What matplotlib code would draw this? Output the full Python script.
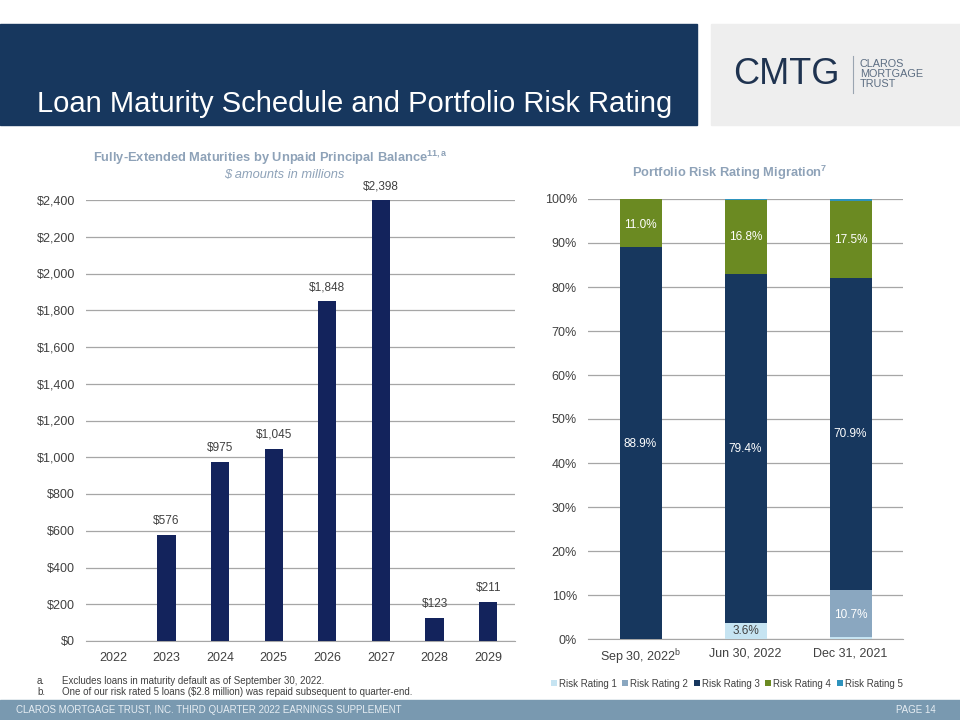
import matplotlib

matplotlib.use("Agg")

import matplotlib.pyplot as plt
import numpy as np
from matplotlib.patches import Rectangle

plt.rcParams["font.family"] = ["Liberation Sans", "DejaVu Sans"]
plt.rcParams["mathtext.fontset"] = "custom"
plt.rcParams["mathtext.rm"] = "Liberation Sans"
plt.rcParams["mathtext.bf"] = "Liberation Sans:bold"
plt.rcParams["mathtext.it"] = "Liberation Sans:italic"

# Left chart: maturities by year ($ millions)
years = ["2022", "2023", "2024", "2025", "2026", "2027", "2028", "2029"]
maturities = [0, 576, 975, 1045, 1848, 2398, 123, 211]
maturity_labels = ["", "$576", "$975", "$1,045", "$1,848", "$2,398", "$123", "$211"]

# Right chart: risk rating mix (%)
periods = ["Sep 30, 2022", "Jun 30, 2022", "Dec 31, 2021"]
rating_names = ["Risk Rating 1", "Risk Rating 2", "Risk Rating 3", "Risk Rating 4", "Risk Rating 5"]
rating_1 = [0.0, 3.6, 0.5]
rating_2 = [0.1, 0.0, 10.7]
rating_3 = [88.9, 79.4, 70.9]
rating_4 = [11.0, 16.8, 17.5]
rating_5 = [0.0, 0.2, 0.4]
shown_labels = [
    ["", "3.6%", ""],
    ["", "", "10.7%"],
    ["88.9%", "79.4%", "70.9%"],
    ["11.0%", "16.8%", "17.5%"],
    ["", "", ""],
]
# vertical position of the in-bar labels (in % units)
label_y = [
    [None, 1.8, None],
    [None, None, 5.5],
    [44.3, 43.2, 46.6],
    [94.1, 91.4, 90.7],
    [None, None, None],
]

NAVY = "#17375e"
BAR_NAVY = "#13235c"
rating_colors = ["#c6e4f2", "#8aa7c0", "#17375e", "#6b8a22", "#2e93bd"]
GRID = "#a6a6a6"
TEXT = "#404040"
SUBTITLE = "#8ea2b8"

W, H = 960, 720
fig = plt.figure(figsize=(W / 100, H / 100), dpi=100)


def fx(px):
    return px / W


def fy(py):
    return 1 - py / H


# header band, logo box and footer
fig.patches.append(Rectangle((0, fy(125)), fx(697), fy(24) - fy(125),
                             transform=fig.transFigure, color=NAVY, zorder=0))
fig.patches.append(Rectangle((fx(711), fy(125)), fx(249), fy(24) - fy(125),
                             transform=fig.transFigure, color="#eeeeee", zorder=0))
fig.patches.append(Rectangle((0, 0), 1, fy(700),
                             transform=fig.transFigure, color="#7999b0", zorder=0))

fig.text(fx(37), fy(104), "Loan Maturity Schedule and Portfolio Risk Rating",
         color="white", fontsize=21, va="center", ha="left")

fig.text(fx(733), fy(74), "CMTG", color="#1f3350", fontsize=26, va="center", ha="left")
fig.add_artist(plt.Line2D([fx(853), fx(853)], [fy(56), fy(93)], color="#9aa5b1", lw=0.8))
fig.text(fx(860), fy(74), "CLAROS\nMORTGAGE\nTRUST", color="#5c6d82", fontsize=7.8,
         va="center", ha="left", linespacing=0.95)

fig.text(fx(16), fy(710), "CLAROS MORTGAGE TRUST, INC. THIRD QUARTER 2022 EARNINGS SUPPLEMENT",
         color="#e6edf3", fontsize=7, va="center", ha="left")
fig.text(fx(936), fy(710), "PAGE 14", color="#e6edf3", fontsize=7, va="center", ha="right")

fig.text(fx(37), fy(681), "a.", color=TEXT, fontsize=7, va="center")
fig.text(fx(62), fy(681), "Excludes loans in maturity default as of September 30, 2022.",
         color=TEXT, fontsize=7, va="center")
fig.text(fx(37), fy(692), "b.", color=TEXT, fontsize=7, va="center")
fig.text(fx(62), fy(692), "One of our risk rated 5 loans ($2.8 million) was repaid subsequent to quarter-end.",
         color=TEXT, fontsize=7, va="center")

# left chart
ax1 = fig.add_axes([fx(86), fy(641), fx(515 - 86), fy(200) - fy(641)])
x = np.arange(len(years))
ax1.bar(x, maturities, width=0.34, color=BAR_NAVY, zorder=3)
for xi, val, lab in zip(x, maturities, maturity_labels):
    if lab:
        ax1.text(xi, val + 45, lab, ha="center", va="bottom", fontsize=8.5, color=TEXT)
ax1.set_xlim(-0.5, len(years) - 0.5)
ax1.set_ylim(0, 2400)
ax1.set_yticks(np.arange(0, 2401, 200))
ax1.set_yticklabels([f"${v:,}" for v in range(0, 2401, 200)])
ax1.set_xticks(x)
ax1.set_xticklabels(years)
ax1.yaxis.grid(True, color=GRID, lw=0.9, zorder=0)
ax1.set_axisbelow(True)
for s in ["top", "right", "left"]:
    ax1.spines[s].set_visible(False)
ax1.spines["bottom"].set_color(GRID)
ax1.tick_params(axis="both", length=0, labelsize=9, colors=TEXT)
ax1.tick_params(axis="y", pad=8)
ax1.tick_params(axis="x", pad=8)

fig.text(fx(270), fy(158), r"Fully-Extended Maturities by Unpaid Principal Balance$^{\mathbf{11,a}}$",
         color=SUBTITLE, fontsize=9.3, fontweight="bold", ha="center", va="center")
fig.text(fx(284), fy(175), "$ amounts in millions", color=SUBTITLE, fontsize=9.3,
         style="italic", ha="center", va="center")

# right chart
ax2 = fig.add_axes([fx(588), fy(639), fx(903 - 588), fy(199) - fy(639)])
xr = np.arange(len(periods))
series = [rating_1, rating_2, rating_3, rating_4, rating_5]
bottom = np.zeros(len(periods))
for name, vals, col in zip(rating_names, series, rating_colors):
    ax2.bar(xr, vals, bottom=bottom, width=0.4, color=col, label=name, zorder=3)
    bottom += np.array(vals)
for labs, ys in zip(shown_labels, label_y):
    for xi, lab, yv in zip(xr, labs, ys):
        if lab:
            c = TEXT if lab == "3.6%" else "white"
            ax2.text(xi, yv, lab, ha="center", va="center", fontsize=8.5, color=c, zorder=4)
ax2.set_xlim(-0.5, len(periods) - 0.5)
ax2.set_ylim(0, 100)
ax2.set_yticks(np.arange(0, 101, 10))
ax2.set_yticklabels([f"{v}%" for v in range(0, 101, 10)])
ax2.set_xticks(xr)
ax2.set_xticklabels([r"Sep 30, 2022$^{\mathrm{b}}$", "Jun 30, 2022", "Dec 31, 2021"])
ax2.yaxis.grid(True, color=GRID, lw=0.9, zorder=0)
ax2.set_axisbelow(True)
for s in ["top", "right", "left"]:
    ax2.spines[s].set_visible(False)
ax2.spines["bottom"].set_color(GRID)
ax2.tick_params(axis="both", length=0, labelsize=9, colors=TEXT)
ax2.tick_params(axis="y", pad=8)
ax2.tick_params(axis="x", pad=6)
ax2.legend(loc="upper center", bbox_to_anchor=(0.44, -0.07), ncol=5, frameon=False,
           fontsize=7, handlelength=0.6, handleheight=0.6, handletextpad=0.2,
           columnspacing=0.6, labelcolor=TEXT)

fig.text(fx(730), fy(173), r"Portfolio Risk Rating Migration$^{\mathbf{7}}$",
         color=SUBTITLE, fontsize=9.3, fontweight="bold", ha="center", va="center")

fig.savefig("out.png", dpi=100)
